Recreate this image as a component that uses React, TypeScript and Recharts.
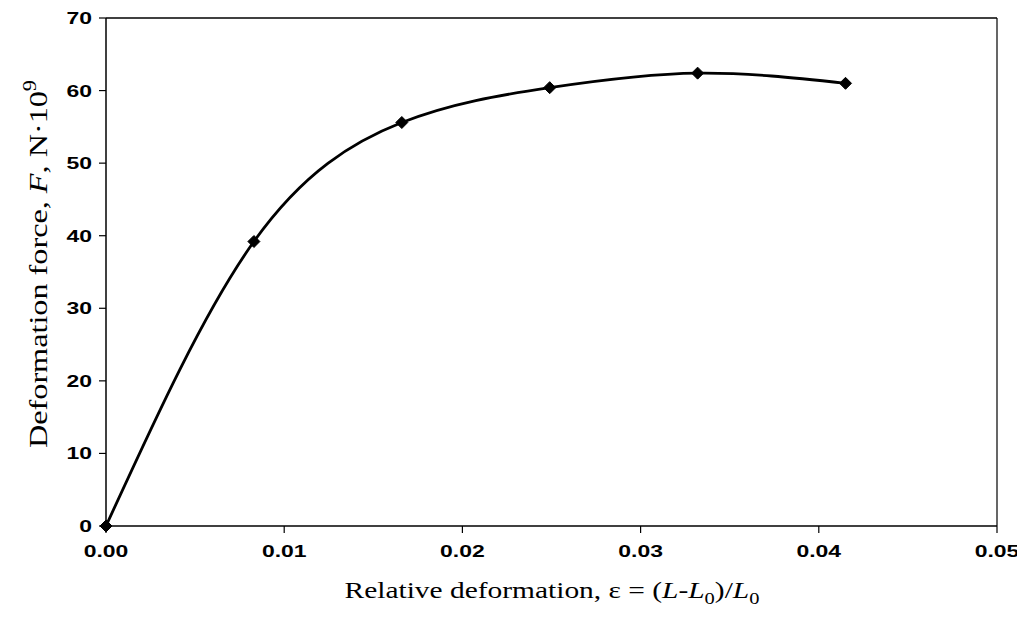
import React from "react";
import { ComposedChart, Line, XAxis, YAxis, ReferenceLine } from "recharts";

const strainValues = [0, 0.0083, 0.0166, 0.0249, 0.0332, 0.0415];
const forceValues = [0, 39.2, 55.6, 60.4, 62.4, 61.0];
const xTicks = [0, 0.01, 0.02, 0.03, 0.04, 0.05];
const yTicks = [0, 10, 20, 30, 40, 50, 60, 70];

const data = strainValues.map((x, i) => ({ x, y: forceValues[i] }));

const TICK_FONT = "'Liberation Sans', Arial, sans-serif";
const SERIF = "'Liberation Serif', 'Times New Roman', serif";

const XTick = (props: any) => {
  const { x, y, payload } = props;
  return (
    <g transform={`translate(${x},${y + 22})`}>
      <text transform="scale(1.35,1)" textAnchor="middle" fontFamily={TICK_FONT} fontSize={17} fontWeight="bold" fill="#000">
        {payload.value.toFixed(2)}
      </text>
    </g>
  );
};

const YTick = (props: any) => {
  const { x, y, payload } = props;
  return (
    <g transform={`translate(${x - 5},${y + 6})`}>
      <text transform="scale(1.35,1)" textAnchor="end" fontFamily={TICK_FONT} fontSize={17} fontWeight="bold" fill="#000">
        {payload.value}
      </text>
    </g>
  );
};

const Diamond = (props: any) => {
  const { cx, cy } = props;
  if (cx == null || cy == null) return null;
  const s = 6;
  return <polygon points={`${cx},${cy - s} ${cx + s},${cy} ${cx},${cy + s} ${cx - s},${cy}`} fill="#000" stroke="#000" />;
};

const YTitle = () => (
  <text
    transform="translate(39,256) rotate(-90)"
    textAnchor="middle"
    fontFamily={SERIF}
    fontSize={26}
    fill="#000"
    textLength={368}
    lengthAdjust="spacingAndGlyphs"
  >
    Deformation force, <tspan fontStyle="italic">F</tspan>, N·10<tspan fontSize={18} dy={-11}>9</tspan>
  </text>
);

const XTitle = () => (
  <text
    x={544}
    y={590}
    textAnchor="middle"
    fontFamily={SERIF}
    fontSize={23}
    fill="#000"
    textLength={415}
    lengthAdjust="spacingAndGlyphs"
  >
    Relative deformation, ε = (<tspan fontStyle="italic">L</tspan>-<tspan fontStyle="italic">L</tspan>
    <tspan fontSize={16} dy={6}>0</tspan>
    <tspan dy={-6}>)/</tspan>
    <tspan fontStyle="italic">L</tspan>
    <tspan fontSize={16} dy={6}>0</tspan>
  </text>
);

export default function App() {
  return (
    <ComposedChart
      width={1017}
      height={610}
      data={data}
      margin={{ top: 10, right: 28, bottom: 52, left: 38 }}
    >
      <XAxis
        dataKey="x"
        type="number"
        domain={[0, 0.05]}
        ticks={xTicks}
        tick={<XTick />}
        tickSize={7}
        axisLine={{ stroke: "#000", strokeWidth: 1.5 }}
        tickLine={{ stroke: "#000", strokeWidth: 1.2 }}
        height={40}
        interval={0}
      />
      <YAxis
        dataKey="y"
        type="number"
        domain={[0, 70]}
        ticks={yTicks}
        tick={<YTick />}
        tickSize={7}
        axisLine={{ stroke: "#000", strokeWidth: 1.5 }}
        tickLine={{ stroke: "#000", strokeWidth: 1.2 }}
        width={60}
        interval={0}
      />
      <ReferenceLine y={70} stroke="#000" strokeWidth={1.5} ifOverflow="visible" />
      <ReferenceLine x={0.05} stroke="#000" strokeWidth={1.2} ifOverflow="visible" />
      <Line
        dataKey="y"
        type="natural"
        stroke="#000"
        strokeWidth={2.8}
        dot={<Diamond />}
        isAnimationActive={false}
      />
      <YTitle />
      <XTitle />
    </ComposedChart>
  );
}
